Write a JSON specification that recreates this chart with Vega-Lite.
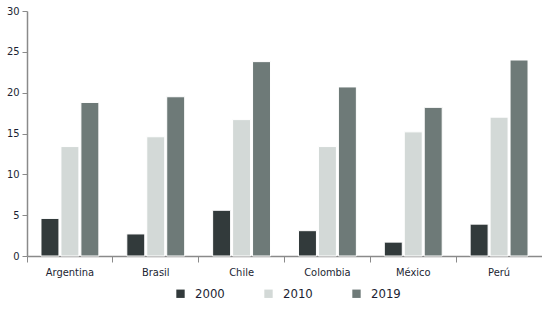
{
  "$schema": "https://vega.github.io/schema/vega-lite/v6.json",
  "autosize": "none",
  "width": 515,
  "height": 245,
  "padding": {"left": 27, "top": 11, "right": 0, "bottom": 54},
  "background": "white",
  "config": {
    "view": {"stroke": null},
    "font": "DejaVu Sans Condensed, Roboto, sans-serif",
    "axis": {"labelFont": "DejaVu Sans Condensed, Roboto, sans-serif", "labelColor": "#1c1f33", "domainColor": "#8a8a8a", "tickColor": "#8a8a8a", "grid": false, "title": null},
    "legend": {"labelFont": "DejaVu Sans Condensed, Roboto, sans-serif", "labelColor": "#1c1f33"}
  },
  "data": {
    "values": [
      {"country": "Argentina", "year": "2000", "value": 4.6},
      {"country": "Argentina", "year": "2010", "value": 13.4},
      {"country": "Argentina", "year": "2019", "value": 18.8},
      {"country": "Brasil", "year": "2000", "value": 2.7},
      {"country": "Brasil", "year": "2010", "value": 14.6},
      {"country": "Brasil", "year": "2019", "value": 19.5},
      {"country": "Chile", "year": "2000", "value": 5.6},
      {"country": "Chile", "year": "2010", "value": 16.7},
      {"country": "Chile", "year": "2019", "value": 23.8},
      {"country": "Colombia", "year": "2000", "value": 3.1},
      {"country": "Colombia", "year": "2010", "value": 13.4},
      {"country": "Colombia", "year": "2019", "value": 20.7},
      {"country": "México", "year": "2000", "value": 1.7},
      {"country": "México", "year": "2010", "value": 15.2},
      {"country": "México", "year": "2019", "value": 18.2},
      {"country": "Perú", "year": "2000", "value": 3.9},
      {"country": "Perú", "year": "2010", "value": 17.0},
      {"country": "Perú", "year": "2019", "value": 24.0}
    ]
  },
  "mark": {"type": "bar", "stroke": "white", "strokeWidth": 1},
  "encoding": {
    "x": {
      "field": "country", "type": "nominal", "sort": null,
      "scale": {"paddingInner": 0, "paddingOuter": 0},
      "axis": {"labelAngle": 0, "bandPosition": 0, "tickSize": 6, "labelFontSize": 11, "labelPadding": 4, "domainWidth": 1.5}
    },
    "xOffset": {
      "field": "year", "type": "nominal",
      "scale": {"paddingInner": 0.1, "paddingOuter": 0.7}
    },
    "y": {
      "field": "value", "type": "quantitative",
      "scale": {"domain": [0, 30], "nice": false},
      "axis": {"values": [0, 5, 10, 15, 20, 25, 30], "tickSize": 5, "labelFontSize": 11, "labelPadding": 3, "domainWidth": 1.5}
    },
    "color": {
      "field": "year", "type": "nominal",
      "scale": {"domain": ["2000", "2010", "2019"], "range": ["#323a3b", "#d3d9d7", "#6e7a78"]},
      "legend": {
        "title": null, "orient": "none", "direction": "horizontal",
        "legendX": 147, "legendY": 276,
        "symbolType": "square", "symbolSize": 70, "symbolStrokeWidth": 0,
        "labelFontSize": 13, "columnPadding": 37, "labelOffset": 8
      }
    }
  }
}
